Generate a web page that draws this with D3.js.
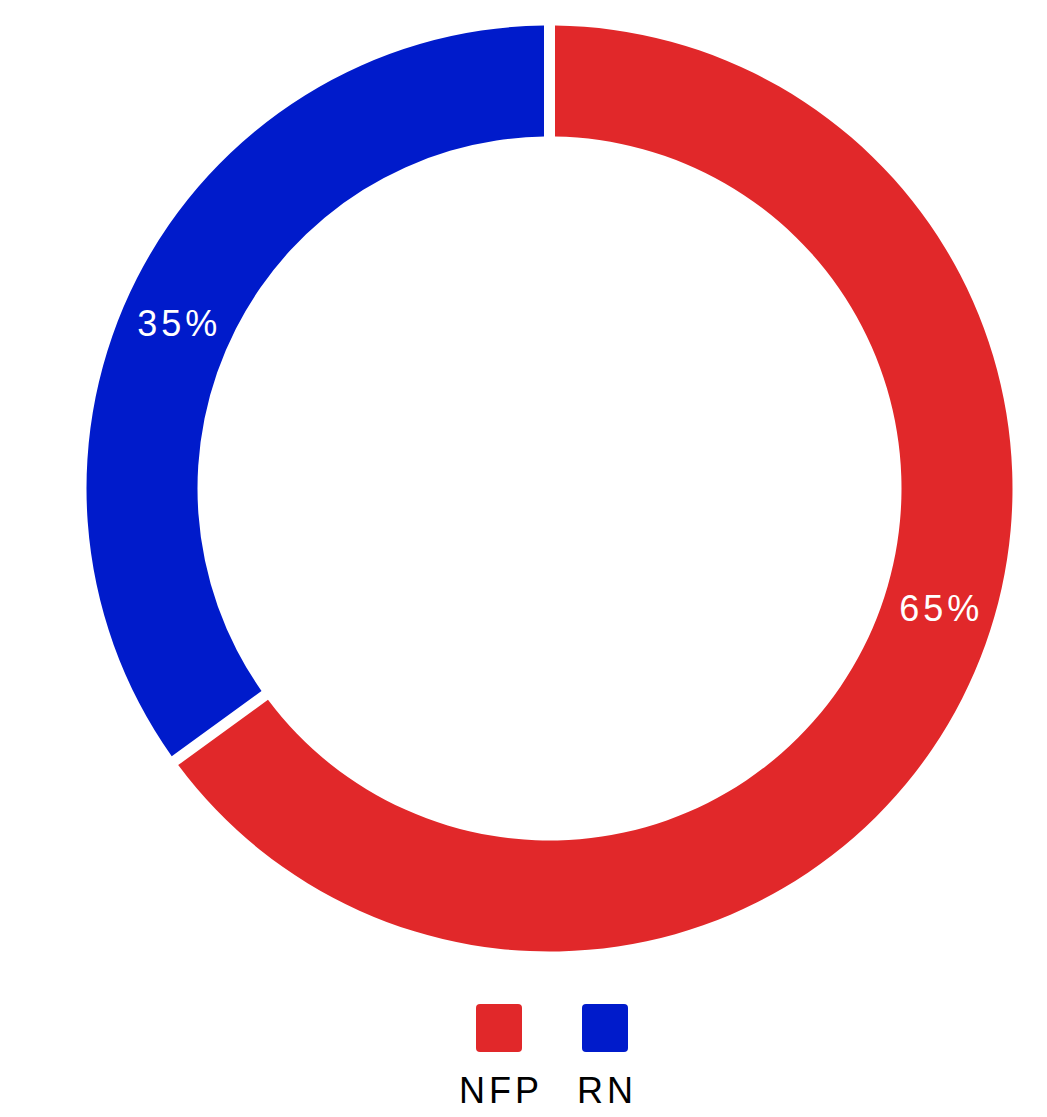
<!DOCTYPE html>
<meta charset="utf-8">
<style>
body { margin: 0; background: #fff; }
text { font-family: 'Liberation Sans', Arial, sans-serif; }
</style>
<svg width="1047" height="1117"></svg>
<script src="https://d3js.org/d3.v7.min.js"></script>
<script>
// data
var parties = ["NFP", "RN"];
var shares = [65, 35];
var colors = ["#e1282a", "#001bcb"];
// small nudge of label angle (degrees) to sit where the original put them
var labelShift = [-10, -3];

var svg = d3.select("svg"),
	cx = 549.5,
	cy = 488.5,
	outerR = 463,
	innerR = 352;

var pie = d3.pie().sort(null).value(function(d) { return d; });
var arcs = pie(shares);

var arc = d3.arc()
	.innerRadius(innerR)
	.outerRadius(outerR)
	.padAngle(11 / 400)
	.padRadius(400);

var g = svg.append("g").attr("transform", "translate(" + cx + "," + cy + ")");

g.selectAll("path")
	.data(arcs)
	.enter().append("path")
	.attr("d", arc)
	.attr("fill", function(d, i) { return colors[i]; });

var labelR = (innerR + outerR) / 2;
g.selectAll("text.pct")
	.data(arcs)
	.enter().append("text")
	.attr("class", "pct")
	.attr("x", function(d, i) {
		var a = (d.startAngle + d.endAngle) / 2 + labelShift[i] * Math.PI / 180;
		return labelR * Math.sin(a) + 2;
	})
	.attr("y", function(d, i) {
		var a = (d.startAngle + d.endAngle) / 2 + labelShift[i] * Math.PI / 180;
		return -labelR * Math.cos(a);
	})
	.attr("dy", "0.36em")
	.attr("text-anchor", "middle")
	.attr("fill", "#fff")
	.style("font-size", "36px")
	.style("letter-spacing", "4px")
	.text(function(d) { return d.data + "%"; });

// legend
var legendX = d3.scalePoint().domain(parties).range([499, 605]);

var legend = svg.append("g").selectAll("g")
	.data(parties)
	.enter().append("g")
	.attr("transform", function(d) { return "translate(" + legendX(d) + ",0)"; });

legend.append("rect")
	.attr("x", -23)
	.attr("y", 1004)
	.attr("width", 46)
	.attr("height", 48)
	.attr("rx", 4)
	.attr("fill", function(d, i) { return colors[i]; });

legend.append("text")
	.attr("x", 2)
	.attr("y", 1103)
	.attr("text-anchor", "middle")
	.attr("fill", "#000")
	.style("font-size", "36px")
	.style("letter-spacing", "4px")
	.text(function(d) { return d; });
</script>
